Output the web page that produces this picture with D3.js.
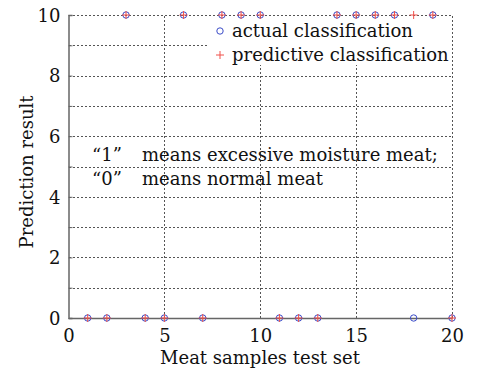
<!DOCTYPE html>
<html lang="en">
<head>
<meta charset="UTF-8">
<title>Prediction result</title>
<script src="https://cdn.jsdelivr.net/npm/d3@7"></script>
<style>
body { margin: 0; background: #fff; }
text { font-family: "DejaVu Serif", serif; fill: #111; }
</style>
</head>
<body>
<svg width="477" height="376"></svg>
<script>
// sample index 1..20
var samples = d3.range(1, 21);
var actual    = [0, 0, 10, 0, 0, 10, 0, 10, 10, 10, 0, 0, 0, 10, 10, 10, 10, 0, 10, 0];
var predicted = [0, 0, 10, 0, 0, 10, 0, 10, 10, 10, 0, 0, 0, 10, 10, 10, 10, 10, 10, 0];
var xTicks = [0, 5, 10, 15, 20];
var yTicks = [0, 2, 4, 6, 8, 10];

var svg = d3.select('svg');
var x = d3.scaleLinear().domain([0, 20]).range([68.5, 452]);
var y = d3.scaleLinear().domain([0, 10]).range([318, 15]);

var grid = svg.append('g').attr('stroke', '#555').attr('stroke-width', 1)
    .attr('stroke-dasharray', '2,2').attr('shape-rendering', 'crispEdges');
grid.selectAll('.hg').data(d3.range(1, 11)).enter().append('line')
    .attr('x1', x(0)).attr('x2', x(20))
    .attr('y1', function(d) { return Math.round(y(d)) + 0.5; })
    .attr('y2', function(d) { return Math.round(y(d)) + 0.5; });
grid.selectAll('.vg').data([5, 10, 15, 20]).enter().append('line')
    .attr('y1', y(0)).attr('y2', y(10))
    .attr('x1', function(d) { return Math.round(x(d)) + 0.5; })
    .attr('x2', function(d) { return Math.round(x(d)) + 0.5; });

// legend box hides grid
svg.append('rect').attr('x', 207).attr('y', 18).attr('width', 244).attr('height', 47).attr('fill', '#fff');

// axes
var xAxis = d3.axisBottom(x).tickValues(xTicks).tickSize(0).tickPadding(11).tickFormat(d3.format('d'));
var yAxis = d3.axisLeft(y).tickValues(d3.range(0, 11)).tickSize(-4).tickPadding(8)
    .tickFormat(function(d) { return yTicks.indexOf(d) >= 0 ? d : ''; });

var gx = svg.append('g').attr('transform', 'translate(0,' + y(0) + ')').call(xAxis);
var gy = svg.append('g').attr('transform', 'translate(' + x(0) + ',0)').call(yAxis);
[gx, gy].forEach(function(g) {
    g.select('.domain').attr('stroke', '#666').attr('stroke-width', 1.5);
    g.selectAll('line').attr('stroke', '#666');
    g.selectAll('text').attr('font-size', 18).attr('font-family', '"DejaVu Serif", serif').attr('fill', '#111');
});
gy.selectAll('text').attr('dy', '0.35em');

// points
var pts = svg.append('g');
pts.selectAll('circle').data(actual).enter().append('circle')
    .attr('cx', function(d, i) { return x(samples[i]); })
    .attr('cy', function(d) { return y(d); })
    .attr('r', 3.2).attr('fill', 'none').attr('stroke', '#3b4cc8').attr('stroke-width', 1);
pts.selectAll('path').data(predicted).enter().append('path')
    .attr('d', function(d, i) {
        var cx = x(samples[i]), cy = y(d);
        return 'M' + (cx - 4) + ',' + cy + 'H' + (cx + 4) + 'M' + cx + ',' + (cy - 4) + 'V' + (cy + 4);
    })
    .attr('stroke', '#f0504a').attr('stroke-width', 1);

// legend
var lg = svg.append('g');
lg.append('circle').attr('cx', 220).attr('cy', 31).attr('r', 3.2)
    .attr('fill', 'none').attr('stroke', '#3b4cc8');
lg.append('path').attr('d', 'M216,55H224M220,51V59').attr('stroke', '#f0504a');
lg.append('text').attr('x', 232).attr('y', 37).attr('font-size', 18).text('actual classification');
lg.append('text').attr('x', 232).attr('y', 61).attr('font-size', 18).text('predictive classification');

// annotation
var notes = [['\u201c1\u201d', 'means excessive moisture meat;'], ['\u201c0\u201d', 'means normal meat']];
notes.forEach(function(n, i) {
    var t = svg.append('text').attr('y', 161 + i * 24).attr('font-size', 18);
    t.append('tspan').attr('x', 92).text(n[0]);
    t.append('tspan').attr('x', 142).text(n[1]);
});

// axis titles
svg.append('text').attr('x', 260).attr('y', 364).attr('text-anchor', 'middle')
    .attr('font-size', 18).text('Meat samples test set');
svg.append('text').attr('transform', 'translate(33,172) rotate(-90)')
    .attr('text-anchor', 'middle').attr('font-size', 18).text('Prediction result');
</script>
</body>
</html>
